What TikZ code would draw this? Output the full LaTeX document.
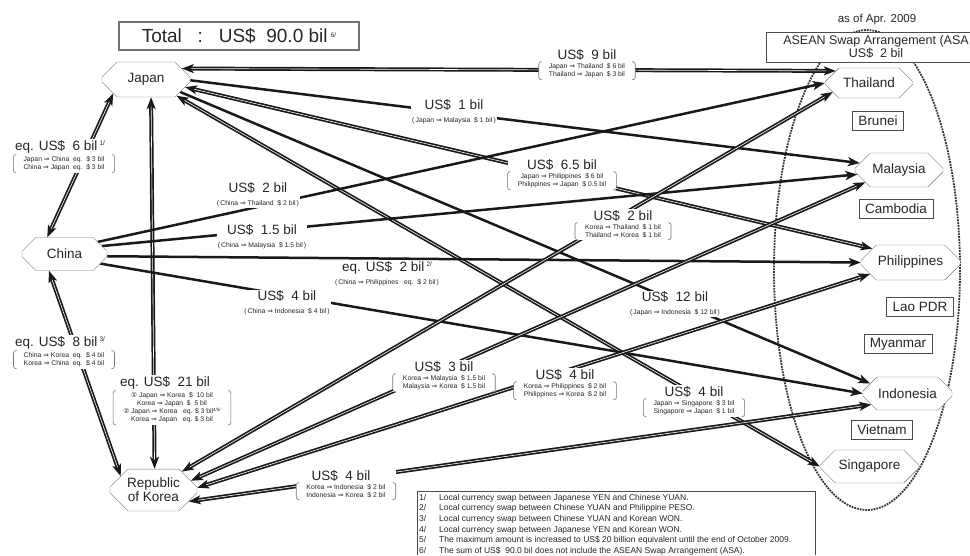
\documentclass[tikz,border=0pt]{standalone}
\usepackage{fontspec}
\setmainfont{Liberation Sans}
\newfontfamily\symfont{DejaVu Sans}
\usetikzlibrary{arrows.meta, positioning, shapes.misc}
\pgfdeclarelayer{back}
\pgfsetlayers{back,main}

\newcommand{\hfnt}{\fontsize{13.5}{15}\selectfont}
\newcommand{\rfnt}{\fontsize{6.8}{8.2}\selectfont}
\newcommand{\sar}{{\symfont ⇒}}
\newcommand{\circone}{{\symfont ①}}
\newcommand{\circtwo}{{\symfont ②}}
\newcommand{\fn}[1]{\raisebox{5pt}{\fontsize{6.5}{7}\selectfont #1}}

\begin{document}
\begin{tikzpicture}[x=1pt, y=-1pt,
    cntry/.style={chamfered rectangle, draw=black!55, fill=white, inner sep=0pt,
      chamfered rectangle xsep=9pt, chamfered rectangle ysep=9pt,
      font=\fontsize{13.5}{14}\selectfont, align=center, text=black!85},
    member/.style={draw=black!70, fill=white, inner xsep=6pt, minimum height=19pt,
      font=\fontsize{13.5}{14}\selectfont, text=black!85},
    lbl/.style={fill=white, inner sep=1pt, align=center, font=\hfnt, text=black!85},
    swrows/.style={fill=white, inner xsep=10pt, inner ysep=1.5pt, align=center, font=\rfnt, text=black!85},
    brkln/.style={draw=black!55, line width=0.6pt, rounded corners=2.5pt},
    one/.style={line width=2.5pt, draw=black!90, -{Stealth[length=12pt, width=9pt, inset=3pt]}},
    two/.style={double=white, double distance=0.6pt, line width=1.7pt, draw=black!90,
      {Stealth[length=12pt, width=9pt, inset=3pt]}-{Stealth[length=12pt, width=9pt, inset=3pt]}}
  ]
  \useasboundingbox (0,0) rectangle (970,555);

  % ASEAN ellipse and its heading
  \begin{pgfonlayer}{back}
    \draw[black!80, line width=1.8pt, densely dotted] (867,270) ellipse [x radius=93, y radius=240];
  \end{pgfonlayer}
  \node[font=\fontsize{11.5}{12}\selectfont, text=black!85] (asof) at (877,20) {as of Apr. 2009};
  \draw[black!70, fill=white] (970,32) -- (766,32) -- (766,62) -- (970,62);
  \node[align=center, font=\fontsize{12.5}{13}\selectfont, text=black!85] (asa) at (876,47)
    {ASEAN Swap Arrangement (ASA\\US\$\ \ 2 bil};

  % total
  \node[draw=black!55, line width=1.3pt, minimum width=240, minimum height=28,
    font=\fontsize{19}{20}\selectfont, text=black!85] (total) at (239,36)
    {Total\ \ \ :\ \ \ US\$\ \ 90.0 bil\,\fn{6/}};

  % countries
  \node[cntry, minimum width=88, minimum height=35] (japan) at (146,79.5) {Japan};
  \node[cntry, minimum width=85, minimum height=33] (china) at (64.5,254) {China};
  \node[cntry, minimum width=87, minimum height=36] (korea) at (153.5,490) {Republic\\of Korea};
  \node[cntry, minimum width=88, minimum height=30] (thai) at (869,83) {Thailand};
  \node[cntry, minimum width=88, minimum height=34] (malay) at (899,170) {Malaysia};
  \node[cntry, minimum width=99, minimum height=35] (phil) at (910.5,262.5) {Philippines};
  \node[cntry, minimum width=89, minimum height=33] (indo) at (907.5,393.5) {Indonesia};
  \node[cntry, minimum width=99, minimum height=33] (sing) at (869.5,466.5) {Singapore};
  \node[member] (brunei) at (878,121) {Brunei};
  \node[member] (cambodia) at (896,209) {Cambodia};
  \node[member] (lao) at (920,307) {Lao PDR};
  \node[member] (myanmar) at (898,344) {Myanmar};
  \node[member] (vietnam) at (882,430) {Vietnam};

  % swaps
  \begin{pgfonlayer}{back}
    \draw[two] (japan.203) -- (china.136);
    \draw[two] (japan.-74) -- (korea.87);
    \draw[two] (china.227) -- (korea.157);
    \draw[two] (japan.17) -- (thai.160);
    \draw[one] (japan.-1) -- (malay.170);
    \draw[two] (japan.-11) -- (phil.160);
    \draw[one] (japan.-20) -- (indo.165);
    \draw[two] (japan.-28) -- (sing.180);
    \draw[one] (china.20) -- (thai.180);
    \draw[one] (china.12) -- (malay.186);
    \draw[one] (china.-3) -- (phil.180);
    \draw[one] (china.-15) -- (indo.180);
    \draw[two] (korea.33) -- (thai.194);
    \draw[two] (korea.14) -- (malay.200);
    \draw[two] (korea.3) -- (phil.196);
    \draw[two] (korea.-18) -- (indo.197);
  \end{pgfonlayer}

  % two-way amounts
  \node[lbl] (l6b) at (60,147) {eq. US\$\ \ 6 bil\,\fn{1/}};
  \node[swrows, below=0pt of l6b, xshift=4pt] (l6r)
    {Japan \sar{} China\ \ eq.\ \ \$\ 3 bil\\China \sar{} Japan\ \ eq.\ \ \$\ 3 bil};
  \node[lbl] (l8b) at (60,343) {eq. US\$\ \ 8 bil\,\fn{3/}};
  \node[swrows, below=0pt of l8b, xshift=4pt] (l8r)
    {China \sar{} Korea\ \ eq.\ \ \$\ 4 bil\\Korea \sar{} China\ \ eq.\ \ \$\ 4 bil};
  \node[lbl] (l21b) at (165,383) {eq. US\$\ \ 21 bil};
  \node[swrows, below=0pt of l21b, xshift=7pt] (l21r)
    {\circone\ Japan \sar{} Korea\ \ \$\ \ 10 bil\\Korea \sar{} Japan\ \ \$\ \ 5 bil\\
     \circtwo\ Japan \sar{} Korea\ \ \ eq. \$ 3 bil\raisebox{2.5pt}{\fontsize{4.5}{5}\selectfont 4/5/}\\
     Korea \sar{} Japan\ \ \ eq. \$ 3 bil};
  \node[lbl] (l9b) at (587,55) {US\$\ \ 9 bil};
  \node[swrows, below=0pt of l9b] (l9r)
    {Japan \sar{} Thailand\ \ \$\ 6 bil\\Thailand \sar{} Japan\ \ \$\ 3 bil};
  \node[lbl] (l65b) at (562,165) {US\$\ \ 6.5 bil};
  \node[swrows, below=0pt of l65b] (l65r)
    {Japan \sar{} Philippines\ \ \$\ 6 bil\\Philippines \sar{} Japan\ \ \$\ 0.5 bil};
  \node[lbl] (l2kb) at (623,216) {US\$\ \ 2 bil};
  \node[swrows, below=0pt of l2kb] (l2kr)
    {Korea \sar{} Thailand\ \ \$\ 1 bil\\Thailand \sar{} Korea\ \ \$\ 1 bil};
  \node[lbl] (l3b) at (444,367) {US\$\ \ 3 bil};
  \node[swrows, below=0pt of l3b] (l3r)
    {Korea \sar{} Malaysia\ \ \$\ 1.5 bil\\Malaysia \sar{} Korea\ \ \$\ 1.5 bil};
  \node[lbl] (l4pb) at (565,375) {US\$\ \ 4 bil};
  \node[swrows, below=0pt of l4pb] (l4pr)
    {Korea \sar{} Philippines\ \ \$\ 2 bil\\Philippines \sar{} Korea\ \ \$\ 2 bil};
  \node[lbl] (l4sb) at (694,392) {US\$\ \ 4 bil};
  \node[swrows, below=0pt of l4sb] (l4sr)
    {Japan \sar{} Singapore\ \ \$\ 3 bil\\Singapore \sar{} Japan\ \ \$\ 1 bil};
  \node[lbl] (l4ib) at (341,476) {US\$\ \ 4 bil};
  \node[swrows, below=0pt of l4ib, xshift=5pt] (l4ir)
    {Korea \sar{} Indonesia\ \ \$\ 2 bil\\Indonesia \sar{} Korea\ \ \$\ 2 bil};
  \foreach \r/\h in {l6r/l6b, l8r/l8b, l21r/l21b, l9r/l9b, l65r/l65b, l2kr/l2kb, l3r/l3b, l4pr/l4pb, l4sr/l4sb, l4ir/l4ib} {
    \begin{pgfonlayer}{back}
      \fill[white] (\r.south west) rectangle (\r.east |- \h.north);
    \end{pgfonlayer}
    \draw[brkln] ([xshift=3pt]\r.north west) -- (\r.north west) -- (\r.south west) -- ([xshift=3pt]\r.south west)
      ([xshift=-3pt]\r.north east) -- (\r.north east) -- (\r.south east) -- ([xshift=-3pt]\r.south east);
  }

  % one-way amounts
  \node[lbl] (l1b) at (454,112) {US\$\ \ 1 bil\\[-2pt]{\rfnt (\,Japan \sar{} Malaysia\ \ \$\ 1 bil\,)}};
  \node[lbl] (l2cb) at (258,195) {US\$\ \ 2 bil\\[-2pt]{\rfnt (\,China \sar{} Thailand\ \ \$\ 2 bil\,)}};
  \node[lbl] (l15b) at (262,237) {US\$\ \ 1.5 bil\\[-2pt]{\rfnt (\,China \sar{} Malaysia\ \ \$\ 1.5 bil\,)}};
  \node[lbl] (leq2) at (387,274) {eq. US\$\ \ 2 bil\,\fn{2/}\\[-2pt]{\rfnt (\,China \sar{} Philippines\ \ \ eq.\ \ \$\ 2 bil\,)}};
  \node[lbl] (l4cb) at (287,303) {US\$\ \ 4 bil\\[-2pt]{\rfnt (\,China \sar{} Indonesia\ \ \$\ 4 bil\,)}};
  \node[lbl] (l12b) at (675,304) {US\$\ \ 12 bil\\[-2pt]{\rfnt (\,Japan \sar{} Indonesia\ \ \$\ 12 bil\,)}};

  % notes
  \draw[black!70] (417,555) |- (815,491) -- (815,555);
  \node[anchor=north west, inner sep=0pt, align=left, font=\fontsize{8.5}{10.6}\selectfont,
    text=black!85] (notes) at (419,494)
    {\makebox[20pt][l]{1/}Local currency swap between Japanese YEN and Chinese YUAN.\\
     \makebox[20pt][l]{2/}Local currency swap between Chinese YUAN and Philippine PESO.\\
     \makebox[20pt][l]{3/}Local currency swap between Chinese YUAN and Korean WON.\\
     \makebox[20pt][l]{4/}Local currency swap between Japanese YEN and Korean WON.\\
     \makebox[20pt][l]{5/}The maximum amount is increased to US\$ 20 billion equivalent until the end of October 2009.\\
     \makebox[20pt][l]{6/}The sum of US\$\ \ 90.0 bil does not include the ASEAN Swap Arrangement (ASA).};
\end{tikzpicture}
\end{document}
